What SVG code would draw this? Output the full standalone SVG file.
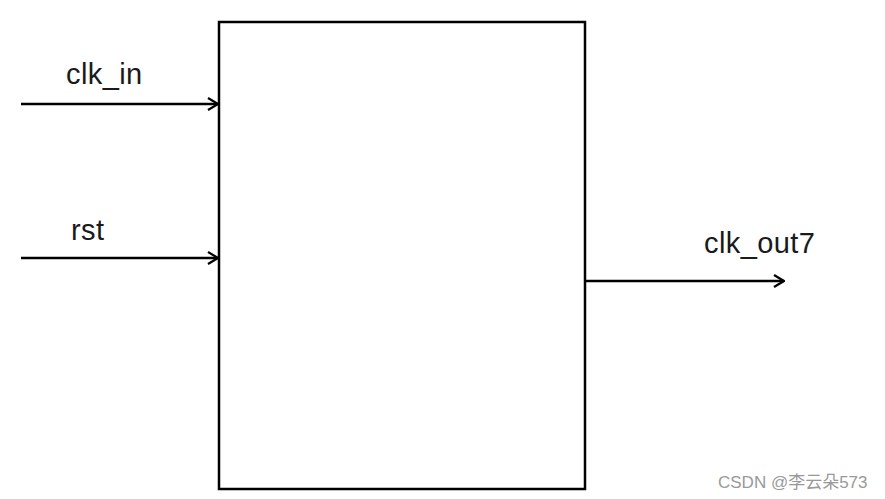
<svg xmlns="http://www.w3.org/2000/svg" width="885" height="499" viewBox="0 0 885 499">
<defs>
<style>
.lbl{font-family:"Liberation Sans",Arial,sans-serif;font-size:29px;fill:#1a1a1a;letter-spacing:0.4px}
.wire{stroke:#000;stroke-width:2.5;fill:none}
.wm{font-family:"Liberation Sans","Noto Sans CJK SC",sans-serif;font-size:17px;fill:#999}
</style>
<marker id="arr" viewBox="0 0 12 14" refX="11" refY="7" markerWidth="12" markerHeight="14" markerUnits="userSpaceOnUse" orient="auto">
<path d="M1,1 L11,7 L1,13" fill="none" stroke="#000" stroke-width="2.2"/>
</marker>
</defs>
<rect width="885" height="499" fill="#fff"/>
<g id="block">
<rect x="219" y="22" width="366" height="467" fill="#fff" stroke="#000" stroke-width="2.5"/>
</g>
<g id="connectors">
<line class="wire" x1="21" y1="104" x2="218" y2="104" marker-end="url(#arr)"/>
<line class="wire" x1="21" y1="258" x2="218" y2="258" marker-end="url(#arr)"/>
<line class="wire" x1="586" y1="281" x2="784" y2="281" marker-end="url(#arr)"/>
</g>
<g id="labels">
<text class="lbl" x="66" y="84">clk_in</text>
<text class="lbl" x="71" y="240">rst</text>
<text class="lbl" x="704" y="253">clk_out7</text>
</g>
<text class="wm" x="718" y="488">CSDN @李云朵573</text>
</svg>
